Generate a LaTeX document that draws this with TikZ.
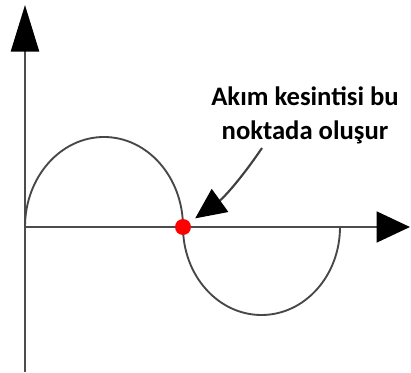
\documentclass[tikz,border=0pt]{standalone}
\usepackage{fontspec}
\setmainfont{Carlito}
\usetikzlibrary{arrows.meta, positioning}

\begin{document}
\begin{tikzpicture}[x=0.75pt, y=0.75pt,
    axis/.style={line width=2pt, black!70},
    wave/.style={line width=1.4pt, black!72},
    pointer/.style={line width=1.6pt, black!75, -{Triangle[length=23pt, width=21pt, black]}},
    cutdot/.style={circle, fill=red, inner sep=0pt, minimum size=12pt}]
  \useasboundingbox (0,0) rectangle (411,372);

  % Axes
  \coordinate (O) at (25,145);
  \draw[axis, -{Triangle[length=35pt, width=21pt, black]}] (25,0) -- (25,367);
  \draw[axis, -{Triangle[length=25pt, width=23pt, black]}] (O) -- (410,145);

  % Sine wave (two half ellipses)
  \draw[wave] (O) arc[start angle=180, end angle=0, x radius=79, y radius=90]
              arc[start angle=180, end angle=360, x radius=78.5, y radius=88];

  % Current interruption point
  \node[cutdot] (cut) at (183,145) {};

  % Label and pointer
  \node[align=center, font=\fontsize{20}{25.5}\selectfont\bfseries] (label) at (305,257)
    {Akım kesintisi bu\\noktada oluşur};
  \coordinate (tail) at (262,224);
  \draw[pointer, shorten >=5pt] (tail) to[bend left=10] (cut);
\end{tikzpicture}
\end{document}
